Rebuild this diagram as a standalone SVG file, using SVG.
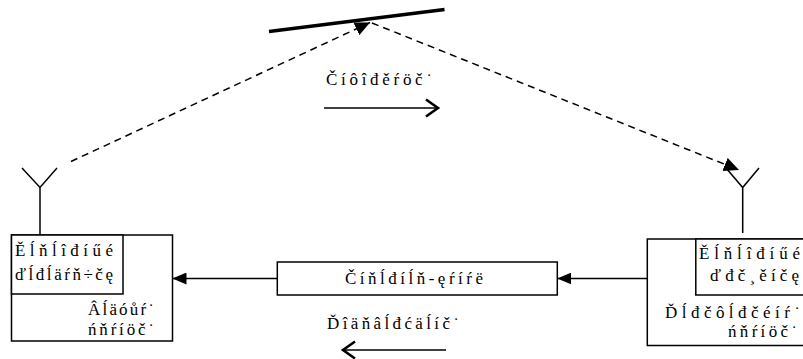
<svg xmlns="http://www.w3.org/2000/svg" width="803" height="359" viewBox="0 0 803 359">
  <style>
    .box { fill: #fff; stroke: #000; stroke-width: 1.5; }
    .wire { fill: none; stroke: #000; stroke-width: 1.5; }
    .ray { fill: none; stroke: #000; stroke-width: 1.5; stroke-dasharray: 7 5; }
    .dir { fill: none; stroke: #000; stroke-width: 1.6; }
    .chev { fill: none; stroke: #000; stroke-width: 2.6; stroke-linejoin: miter; }
    text { font-family: "Liberation Serif", "Times New Roman", serif; font-size: 17px; fill: #000; }
  </style>
  <defs>
    <marker id="tri" markerUnits="userSpaceOnUse" markerWidth="14" markerHeight="12" refX="14" refY="6" orient="auto">
      <path d="M0,0 L14,6 L0,12 z" fill="#000"/>
    </marker>
    <marker id="tri-ray" markerUnits="userSpaceOnUse" markerWidth="15" markerHeight="14" refX="15" refY="7" orient="auto">
      <path d="M0,0 L15,7 L0,14 z" fill="#000"/>
    </marker>
  </defs>

  <!-- reflecting trail -->
  <g id="reflector">
    <line x1="269" y1="31.5" x2="444.5" y2="9.5" stroke="#000" stroke-width="3.5"/>
  </g>

  <!-- master station, left -->
  <g id="master">
    <rect class="box" x="11.5" y="235" width="161" height="106"/>
    <rect class="box" x="11.5" y="235" width="111.5" height="59"/>
    <text x="15" y="255.5" textLength="98" lengthAdjust="spacing">Ěĺňĺîđíűé</text>
    <text x="15" y="279.5" textLength="98" lengthAdjust="spacing">ďĺđĺäŕň÷čę</text>
    <text x="88" y="315" textLength="66" lengthAdjust="spacing">Âĺäóůŕ˙</text>
    <text x="88" y="335" textLength="66" lengthAdjust="spacing">ńňŕíöč˙</text>
    <path class="wire" d="M40,235 V187.5 M22,168 L40,187.5 L57,168"/>
  </g>

  <!-- peripheral station, right -->
  <g id="peripheral">
    <rect class="box" x="647.3" y="239" width="160" height="106.5"/>
    <rect class="box" x="695.8" y="239" width="112" height="56"/>
    <text x="699" y="258.5" textLength="101" lengthAdjust="spacing">Ěĺňĺîđíűé</text>
    <text x="710" y="280.5" textLength="89" lengthAdjust="spacing">ďđč¸ěíčę</text>
    <text x="665" y="317.5" textLength="135" lengthAdjust="spacing">Ďĺđčôĺđčéíŕ˙</text>
    <text x="728" y="336.5" textLength="69" lengthAdjust="spacing">ńňŕíöč˙</text>
    <path class="wire" d="M742.7,233 V187.5 M726,168 L742.7,187.5 L759,168"/>
  </g>

  <!-- internet link -->
  <g id="internet">
    <rect class="box" x="277.3" y="262" width="280" height="33"/>
    <text x="345" y="283.5" textLength="138" lengthAdjust="spacing">Číňĺđíĺň-ęŕíŕë</text>
  </g>

  <!-- direction labels -->
  <g id="label-info">
    <text x="326" y="85" textLength="106" lengthAdjust="spacing">Číôîđěŕöč˙</text>
    <line class="dir" x1="324" y1="108" x2="437" y2="108"/>
    <path class="chev" d="M426,99.5 L438,108 L426,116.5"/>
  </g>
  <g id="label-ack">
    <text x="327" y="328.5" textLength="132" lengthAdjust="spacing">Ďîäňâĺđćäĺíč˙</text>
    <line class="dir" x1="343" y1="350" x2="446" y2="350"/>
    <path class="chev" d="M355,341.5 L343,350 L355,358.5"/>
  </g>

  <!-- connectors -->
  <g id="connectors">
    <line class="ray" x1="71" y1="161.5" x2="370" y2="22.5" marker-end="url(#tri-ray)"/>
    <line class="ray" x1="372" y1="23" x2="739" y2="170" marker-end="url(#tri-ray)"/>
    <line class="wire" x1="647.3" y1="278.5" x2="557.3" y2="278.5" marker-end="url(#tri)"/>
    <line class="wire" x1="277.3" y1="278.5" x2="172.5" y2="278.5" marker-end="url(#tri)"/>
  </g>
</svg>
